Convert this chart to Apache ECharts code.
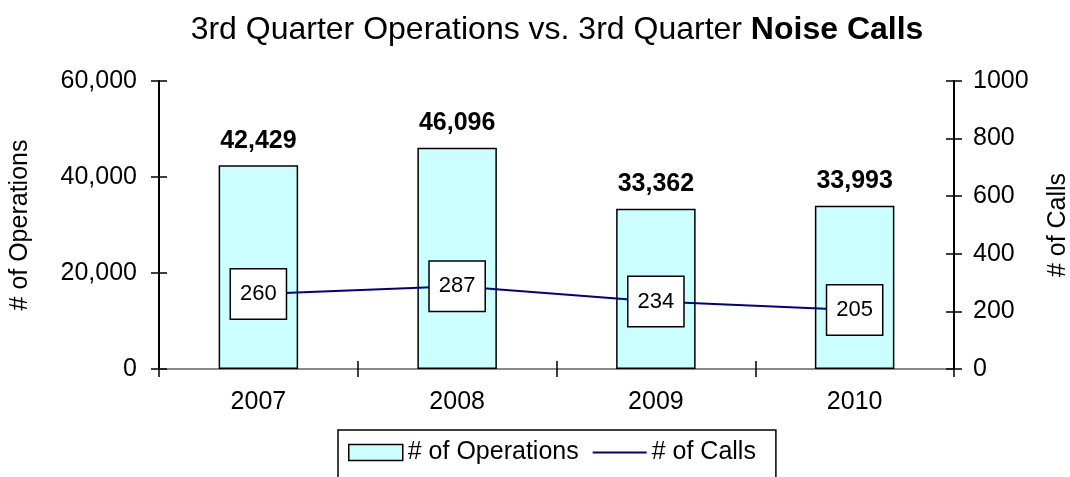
<!DOCTYPE html>
<html lang="en">
<head>
    <meta charset="UTF-8">
    <title>3rd Quarter Operations vs. Noise Calls</title>
    <script src="https://cdn.jsdelivr.net/npm/echarts@6/dist/echarts.min.js"></script>
    <style>
        html, body { margin: 0; padding: 0; background: #fff; }
        #main { width: 1070px; height: 477px; }
    </style>
</head>
<body>
<div id="main"></div>
<script>
    // data
    var years = ['2007', '2008', '2009', '2010'];
    var operations = [42429, 46096, 33362, 33993];
    var calls = [260, 287, 234, 205];

    var FONT = '"Liberation Sans", Arial, sans-serif';

    function comma(v) {
        return String(v).replace(/\B(?=(\d{3})+(?!\d))/g, ',');
    }

    var myChart = echarts.init(document.getElementById('main'));

    var option = {
        animation: false,
        textStyle: { fontFamily: FONT, color: '#000' },
        title: {
            text: '3rd Quarter Operations vs. 3rd Quarter {b|Noise Calls}',
            left: 557,
            textAlign: 'center',
            top: 14,
            padding: 0,
            textStyle: {
                fontFamily: FONT,
                fontSize: 32,
                fontWeight: 'normal',
                color: '#000',
                rich: { b: { fontFamily: FONT, fontSize: 32, fontWeight: 'bold', color: '#000' } }
            }
        },
        grid: { left: 159, right: 116, top: 81, bottom: 108, outerBoundsMode: 'none', containLabel: false },
        legend: {
            left: 338,
            top: 430,
            padding: [10, 20, 14, 10],
            borderColor: '#000',
            borderWidth: 1.5,
            itemWidth: 54,
            itemHeight: 16,
            itemGap: 14,
            textStyle: { fontFamily: FONT, fontSize: 25, color: '#000' },
            data: [
                { name: '# of Operations', icon: 'rect',
                  itemStyle: { color: '#ccffff', borderColor: '#000', borderWidth: 1.5 } },
                { name: '# of Calls', icon: 'path://M0,0H60V2H0Z',
                  itemStyle: { color: '#000080' } }
            ]
        },
        xAxis: [
            {
                type: 'category',
                data: years,
                axisLine: { lineStyle: { color: '#000', width: 2 } },
                axisTick: { show: true, length: 8, lineStyle: { color: '#000', width: 1.5 } },
                axisLabel: { fontSize: 25, color: '#000', fontFamily: FONT, margin: 21 }
            },
            {
                // top edge of the plot
                type: 'category',
                data: years,
                position: 'top',
                axisLine: { lineStyle: { color: '#888', width: 2 } },
                axisTick: { show: false },
                axisLabel: { show: false }
            },
            {
                // inner half of the crossing ticks on the category axis
                type: 'category',
                data: years,
                position: 'bottom',
                axisLine: { show: false },
                axisTick: { show: true, inside: true, length: 8, lineStyle: { color: '#000', width: 1.5 } },
                axisLabel: { show: false }
            }
        ],
        yAxis: [
            {
                type: 'value',
                min: 0, max: 60000, interval: 20000,
                name: '# of Operations',
                nameLocation: 'middle',
                nameRotate: 90,
                nameGap: 126,
                nameTextStyle: { fontSize: 25, fontFamily: FONT, color: '#000' },
                axisLine: { show: true, lineStyle: { color: '#000', width: 2 } },
                axisTick: { show: true, length: 8, lineStyle: { color: '#000', width: 1.5 } },
                axisLabel: { fontSize: 25, color: '#000', fontFamily: FONT, margin: 22,
                             formatter: function (v) { return comma(v); } },
                splitLine: { show: false }
            },
            {
                type: 'value',
                min: 0, max: 1000, interval: 200,
                name: '# of Calls',
                nameLocation: 'middle',
                nameRotate: 90,
                nameGap: 92,
                nameTextStyle: { fontSize: 25, fontFamily: FONT, color: '#000' },
                axisLine: { show: true, lineStyle: { color: '#000', width: 2 } },
                axisTick: { show: true, length: 8, lineStyle: { color: '#000', width: 1.5 } },
                axisLabel: { fontSize: 25, color: '#000', fontFamily: FONT, margin: 19,
                             formatter: function (v) { return String(v); } },
                splitLine: { show: false }
            },
            {
                // inner half of the crossing ticks on the left axis
                type: 'value',
                position: 'left',
                min: 0, max: 60000, interval: 20000,
                axisLine: { show: false },
                axisTick: { show: true, inside: true, length: 8, lineStyle: { color: '#000', width: 1.5 } },
                axisLabel: { show: false },
                splitLine: { show: false }
            },
            {
                // inner half of the crossing ticks on the right axis
                type: 'value',
                position: 'right',
                min: 0, max: 1000, interval: 200,
                axisLine: { show: false },
                axisTick: { show: true, inside: true, length: 8, lineStyle: { color: '#000', width: 1.5 } },
                axisLabel: { show: false },
                splitLine: { show: false }
            }
        ],
        series: [
            {
                name: '# of Operations',
                type: 'bar',
                xAxisIndex: 0,
                yAxisIndex: 0,
                barWidth: '40%',
                data: operations,
                itemStyle: { color: '#ccffff', borderColor: '#000', borderWidth: 1.5 },
                label: {
                    show: true,
                    position: 'top',
                    distance: 12,
                    fontFamily: FONT,
                    fontSize: 25,
                    fontWeight: 'bold',
                    color: '#000',
                    formatter: function (p) { return comma(p.value); }
                }
            },
            {
                name: '# of Calls',
                type: 'line',
                xAxisIndex: 0,
                yAxisIndex: 1,
                data: calls,
                symbol: 'circle',
                symbolSize: 1,
                showSymbol: true,
                itemStyle: { color: '#000080' },
                lineStyle: { color: '#000080', width: 2 },
                label: {
                    show: true,
                    position: 'inside',
                    fontFamily: FONT,
                    fontSize: 22,
                    color: '#000',
                    backgroundColor: '#fff',
                    borderColor: '#000',
                    borderWidth: 1.5,
                    padding: [15, 9, 12, 9]
                }
            }
        ]
    };

    myChart.setOption(option);
</script>
</body>
</html>
